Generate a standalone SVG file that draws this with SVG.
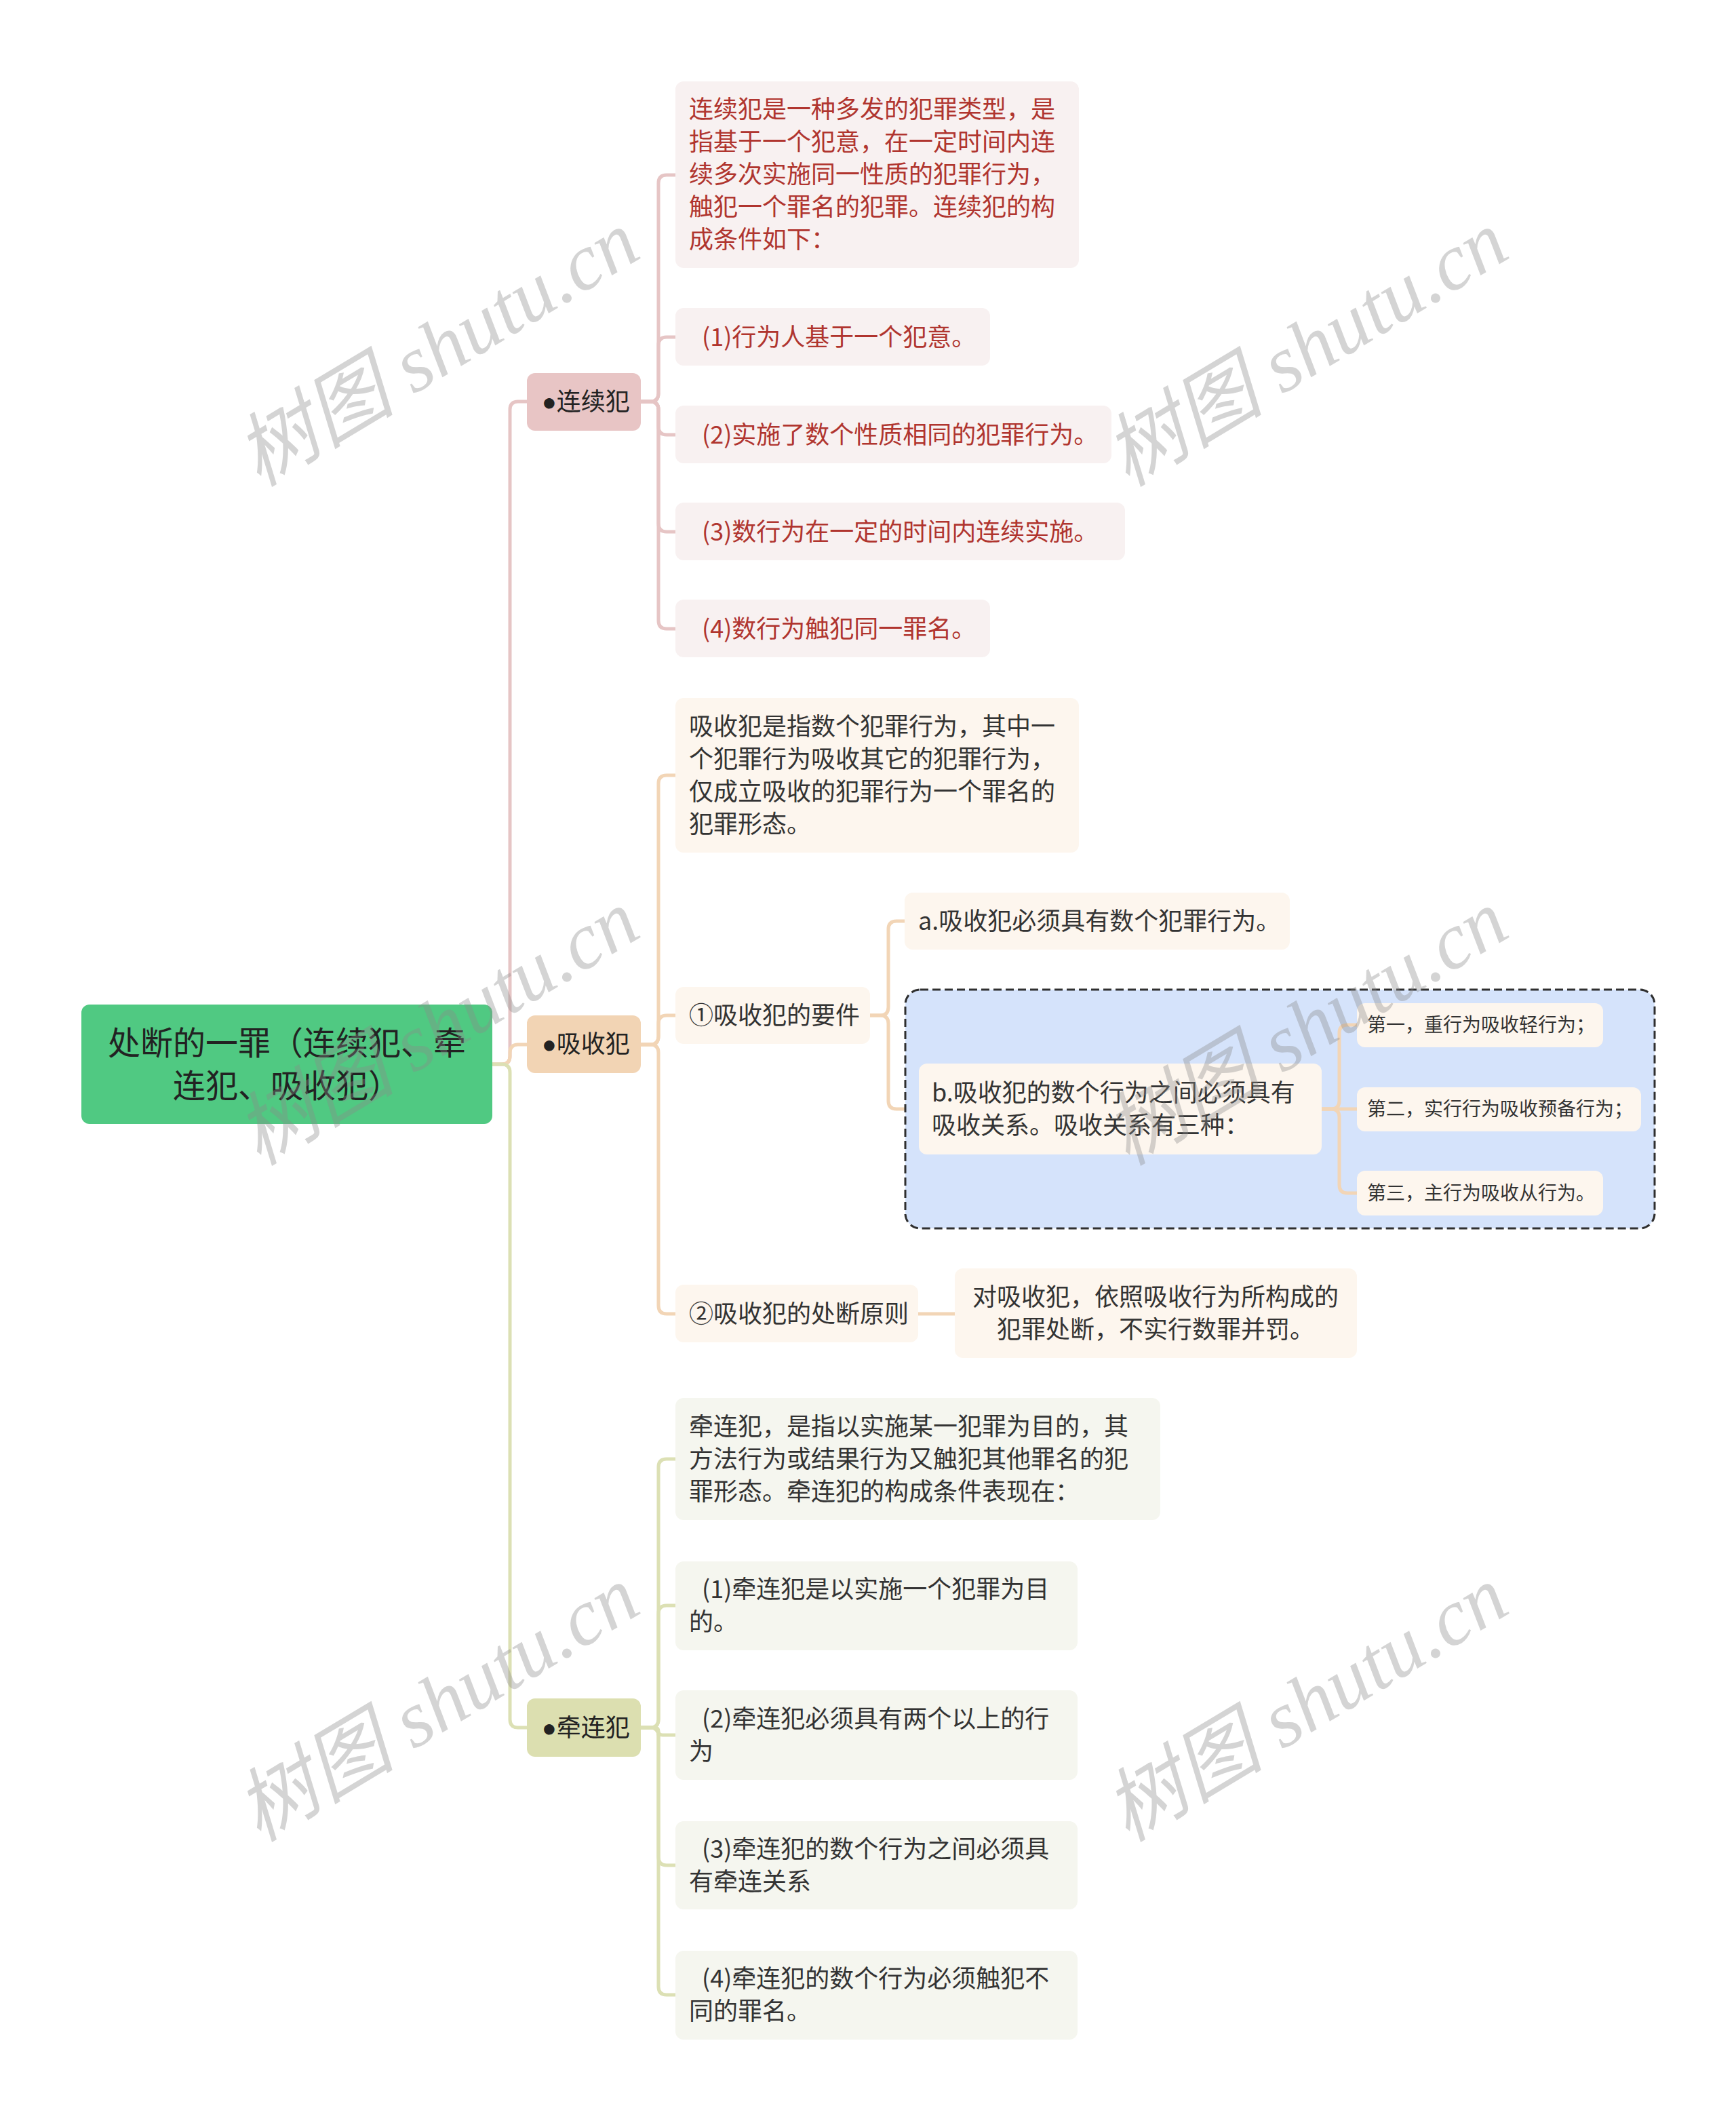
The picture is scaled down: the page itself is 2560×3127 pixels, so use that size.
<svg xmlns="http://www.w3.org/2000/svg" width="2560" height="3127" viewBox="0 0 2560 3127">
<style>
.t{font-family:"Noto Sans CJK SC","Noto Sans",sans-serif;font-size:36px;fill:#333}
.red{fill:#B0352F}
.s28{font-size:28px}
.root{font-size:48px;fill:#222}
.l1{fill:#222}
.dot{font-family:"Liberation Sans","DejaVu Sans",sans-serif}
.mid{text-anchor:middle}
.c{fill:none;stroke-width:5;stroke-linecap:round;stroke-linejoin:round}
.pk{stroke:#E6C5C5}
.pc{stroke:#F2D5B6}
.ol{stroke:#DCE0B4}
.wm{font-family:"Liberation Serif","Noto Sans CJK SC",serif;font-size:118px;font-style:italic;fill:#8a8a8a;opacity:0.36}
</style>
<rect width="2560" height="3127" fill="#FFFFFF"/>
<g id="connectors">
<path class="c pk" d="M726,1569 H740 Q752,1569 752,1557 V604 Q752,592 764,592 H777"/>
<path class="c pc" d="M726,1569 H740 Q752,1569 752,1557 V1552 Q752,1540 764,1540 H777"/>
<path class="c ol" d="M726,1569 H740 Q752,1569 752,1581 V2535 Q752,2547 764,2547 H777"/>
<path class="c pk" d="M945,592 H959 Q971,592 971,580 V270 Q971,258 983,258 H996"/>
<path class="c pk" d="M945,592 H959 Q971,592 971,580 V509 Q971,497 983,497 H996"/>
<path class="c pk" d="M945,592 H959 Q971,592 971,604 V629 Q971,641 983,641 H996"/>
<path class="c pk" d="M945,592 H959 Q971,592 971,604 V772 Q971,784 983,784 H996"/>
<path class="c pk" d="M945,592 H959 Q971,592 971,604 V915 Q971,927 983,927 H996"/>
<path class="c pc" d="M945,1540 H959 Q971,1540 971,1528 V1155 Q971,1143 983,1143 H996"/>
<path class="c pc" d="M945,1540 H959 Q971,1540 971,1528 V1509 Q971,1497 983,1497 H996"/>
<path class="c pc" d="M945,1540 H959 Q971,1540 971,1552 V1925 Q971,1937 983,1937 H996"/>
<path class="c pc" d="M1283,1497 H1298 Q1310,1497 1310,1485 V1370 Q1310,1358 1322,1358 H1334"/>
<path class="c pc" d="M1283,1497 H1298 Q1310,1497 1310,1509 V1623 Q1310,1635 1322,1635 H1355"/>
<path class="c pc" d="M1354,1937 H1408"/>
<path class="c ol" d="M945,2547 H959 Q971,2547 971,2535 V2163 Q971,2151 983,2151 H996"/>
<path class="c ol" d="M945,2547 H959 Q971,2547 971,2535 V2379 Q971,2367 983,2367 H996"/>
<path class="c ol" d="M945,2547 H965 Q971,2547 971,2552.5 Q971,2558 977,2558 H996"/>
<path class="c ol" d="M945,2547 H959 Q971,2547 971,2559 V2738 Q971,2750 983,2750 H996"/>
<path class="c ol" d="M945,2547 H959 Q971,2547 971,2559 V2929 Q971,2941 983,2941 H996"/>
</g>
<g id="boundary">
<rect x="1335" y="1459" width="1105" height="352" rx="22" fill="#D5E3FB" stroke="#2F2F2F" stroke-width="3" stroke-dasharray="12 6"/>
</g>
<g id="connectors-b">
<path class="c pc" d="M1949,1635 H1963 Q1975,1635 1975,1623 V1523 Q1975,1511 1987,1511 H2001"/>
<path class="c pc" d="M1949,1635 H2001"/>
<path class="c pc" d="M1949,1635 H1963 Q1975,1635 1975,1647 V1747 Q1975,1759 1987,1759 H2001"/>
</g>
<g id="root">
<rect x="120" y="1481" width="606" height="176" rx="12" fill="#50C982"/>
<text class="t root mid" x="423" y="1555">处断的一罪（连续犯、牵</text>
<text class="t root mid" x="423" y="1618">连犯、吸收犯）</text>
</g>
<g id="n-lianxu">
<rect x="777" y="550" width="168" height="85" rx="12" fill="#E8C5C5"/>
<text class="t l1" x="799" y="605"><tspan class="dot">●</tspan>连续犯</text>
</g>
<g id="n-xishou">
<rect x="777" y="1497" width="168" height="85" rx="12" fill="#F2D4B4"/>
<text class="t l1" x="799" y="1552"><tspan class="dot">●</tspan>吸收犯</text>
</g>
<g id="n-qianlian">
<rect x="777" y="2504" width="168" height="86" rx="12" fill="#DCDFB0"/>
<text class="t l1" x="799" y="2560"><tspan class="dot">●</tspan>牵连犯</text>
</g>
<g id="lx-desc">
<rect x="996" y="120" width="595" height="275" rx="12" fill="#F8F1F1"/>
<text class="t red" x="1016" y="174">连续犯是一种多发的犯罪类型，是</text>
<text class="t red" x="1016" y="222">指基于一个犯意，在一定时间内连</text>
<text class="t red" x="1016" y="270">续多次实施同一性质的犯罪行为，</text>
<text class="t red" x="1016" y="318">触犯一个罪名的犯罪。连续犯的构</text>
<text class="t red" x="1016" y="366">成条件如下：</text>
</g>
<g id="lx-1">
<rect x="996" y="454" width="464" height="85" rx="12" fill="#F8F1F1"/>
<text class="t red" x="1035" y="510">(1)行为人基于一个犯意。</text>
</g>
<g id="lx-2">
<rect x="996" y="598" width="643" height="85" rx="12" fill="#F8F1F1"/>
<text class="t red" x="1035" y="654">(2)实施了数个性质相同的犯罪行为。</text>
</g>
<g id="lx-3">
<rect x="996" y="741" width="663" height="85" rx="12" fill="#F8F1F1"/>
<text class="t red" x="1035" y="797">(3)数行为在一定的时间内连续实施。</text>
</g>
<g id="lx-4">
<rect x="996" y="884" width="464" height="85" rx="12" fill="#F8F1F1"/>
<text class="t red" x="1035" y="940">(4)数行为触犯同一罪名。</text>
</g>
<g id="xs-desc">
<rect x="996" y="1029" width="595" height="228" rx="12" fill="#FDF6EE"/>
<text class="t" x="1016" y="1084">吸收犯是指数个犯罪行为，其中一</text>
<text class="t" x="1016" y="1132">个犯罪行为吸收其它的犯罪行为，</text>
<text class="t" x="1016" y="1180">仅成立吸收的犯罪行为一个罪名的</text>
<text class="t" x="1016" y="1228">犯罪形态。</text>
</g>
<g id="xs-1">
<rect x="996" y="1455" width="287" height="84" rx="12" fill="#FDF6EE"/>
<text class="t" x="1016" y="1510">①吸收犯的要件</text>
</g>
<g id="xs-a">
<rect x="1334" y="1316" width="568" height="84" rx="12" fill="#FDF6EE"/>
<text class="t" x="1354" y="1371">a.吸收犯必须具有数个犯罪行为。</text>
</g>
<g id="xs-b">
<rect x="1355" y="1568" width="594" height="134" rx="12" fill="#FDF6EE"/>
<text class="t" x="1374" y="1624">b.吸收犯的数个行为之间必须具有</text>
<text class="t" x="1374" y="1672">吸收关系。吸收关系有三种：</text>
</g>
<g id="xs-b1">
<rect x="2001" y="1479" width="363" height="65" rx="12" fill="#FDF6EE"/>
<text class="t s28" x="2016" y="1521">第一，重行为吸收轻行为；</text>
</g>
<g id="xs-b2">
<rect x="2001" y="1603" width="419" height="65" rx="12" fill="#FDF6EE"/>
<text class="t s28" x="2016" y="1645">第二，实行行为吸收预备行为；</text>
</g>
<g id="xs-b3">
<rect x="2001" y="1726" width="363" height="66" rx="12" fill="#FDF6EE"/>
<text class="t s28" x="2016" y="1769">第三，主行为吸收从行为。</text>
</g>
<g id="xs-2">
<rect x="996" y="1894" width="358" height="85" rx="12" fill="#FDF6EE"/>
<text class="t" x="1016" y="1950">②吸收犯的处断原则</text>
</g>
<g id="xs-2a">
<rect x="1408" y="1870" width="593" height="132" rx="12" fill="#FDF6EE"/>
<text class="t mid" x="1704" y="1925">对吸收犯，依照吸收行为所构成的</text>
<text class="t mid" x="1704" y="1973">犯罪处断，不实行数罪并罚。</text>
</g>
<g id="ql-desc">
<rect x="996" y="2061" width="715" height="180" rx="12" fill="#F5F6EF"/>
<text class="t" x="1016" y="2116">牵连犯，是指以实施某一犯罪为目的，其</text>
<text class="t" x="1016" y="2164">方法行为或结果行为又触犯其他罪名的犯</text>
<text class="t" x="1016" y="2212">罪形态。牵连犯的构成条件表现在：</text>
</g>
<g id="ql-1">
<rect x="996" y="2302" width="593" height="131" rx="12" fill="#F5F6EF"/>
<text class="t" x="1035" y="2356">(1)牵连犯是以实施一个犯罪为目</text>
<text class="t" x="1016" y="2404">的。</text>
</g>
<g id="ql-2">
<rect x="996" y="2492" width="593" height="132" rx="12" fill="#F5F6EF"/>
<text class="t" x="1035" y="2547">(2)牵连犯必须具有两个以上的行</text>
<text class="t" x="1016" y="2595">为</text>
</g>
<g id="ql-3">
<rect x="996" y="2685" width="593" height="130" rx="12" fill="#F5F6EF"/>
<text class="t" x="1035" y="2739">(3)牵连犯的数个行为之间必须具</text>
<text class="t" x="1016" y="2787">有牵连关系</text>
</g>
<g id="ql-4">
<rect x="996" y="2876" width="593" height="131" rx="12" fill="#F5F6EF"/>
<text class="t" x="1035" y="2930">(4)牵连犯的数个行为必须触犯不</text>
<text class="t" x="1016" y="2978">同的罪名。</text>
</g>
<g id="watermarks">
<text class="wm mid" transform="translate(645,514) rotate(-31)" y="40">树图 shutu.cn</text>
<text class="wm mid" transform="translate(1926,514) rotate(-31)" y="40">树图 shutu.cn</text>
<text class="wm mid" transform="translate(645,1515) rotate(-31)" y="40">树图 shutu.cn</text>
<text class="wm mid" transform="translate(1926,1515) rotate(-31)" y="40">树图 shutu.cn</text>
<text class="wm mid" transform="translate(645,2512) rotate(-31)" y="40">树图 shutu.cn</text>
<text class="wm mid" transform="translate(1926,2512) rotate(-31)" y="40">树图 shutu.cn</text>
</g>
</svg>
